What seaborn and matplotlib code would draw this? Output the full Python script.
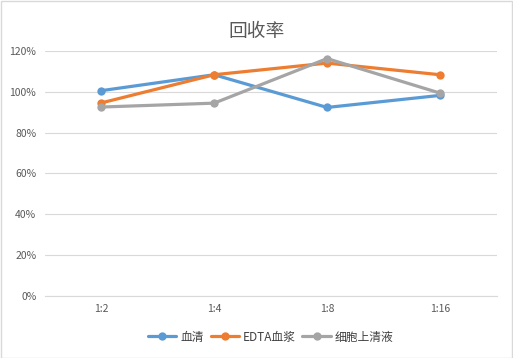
import numpy as np
import matplotlib
matplotlib.use('Agg')
import matplotlib.pyplot as plt
import seaborn as sns
import pandas as pd
from matplotlib.ticker import PercentFormatter

# data
ratios = ['1:2', '1:4', '1:8', '1:16']
serum = [1.005, 1.083, 0.923, 0.982]
edta_plasma = [0.945, 1.083, 1.140, 1.083]
cell_sup = [0.925, 0.944, 1.162, 0.993]
series_names = ['血清', 'EDTA血浆', '细胞上清液']
colors = ['#5B9BD5', '#ED7D31', '#A5A5A5']

df = pd.DataFrame({
    'ratio': ratios * 3,
    'value': serum + edta_plasma + cell_sup,
    'series': [n for n in series_names for _ in ratios],
})

sns.set_style('white')
plt.rcParams['font.family'] = ['Noto Sans CJK SC', 'DejaVu Sans']

fig = plt.figure(figsize=(5.13, 3.58), dpi=100)
ax = fig.add_axes([0.087, 0.173, 0.881, 0.685])

sns.lineplot(data=df, x='ratio', y='value', hue='series', palette=colors,
             marker='o', markersize=6, markeredgewidth=0, linewidth=2.3,
             sort=False, ax=ax)

ax.set_ylim(0, 1.2)
ax.set_yticks(np.arange(0, 1.21, 0.2))
ax.yaxis.set_major_formatter(PercentFormatter(1.0, decimals=0))
ax.set_xlim(-0.5, 3.5)
ax.grid(axis='y', color='#D9D9D9', linewidth=0.8)
ax.set_axisbelow(True)
for s in ['top', 'right', 'left']:
    ax.spines[s].set_visible(False)
ax.spines['bottom'].set_color('#D9D9D9')
ax.tick_params(axis='both', length=0, labelsize=7.5, colors='#595959', pad=6)
ax.set_xlabel('')
ax.set_ylabel('')

fig.suptitle('回收率', y=0.94, fontsize=13.5, color='#595959')

handles, labels = ax.get_legend_handles_labels()
ax.legend(handles, labels, loc='center', bbox_to_anchor=(0.5, -0.167),
          ncol=3, frameon=False, fontsize=8.5, handlelength=2.4,
          handletextpad=0.3, columnspacing=0.6, labelcolor='#404040')

fig.patches.append(plt.Rectangle((0.001, 0.001), 0.997, 0.997, transform=fig.transFigure,
                                 fill=False, edgecolor='#D9D9D9', linewidth=1))

plt.savefig('out.png', dpi=100)
